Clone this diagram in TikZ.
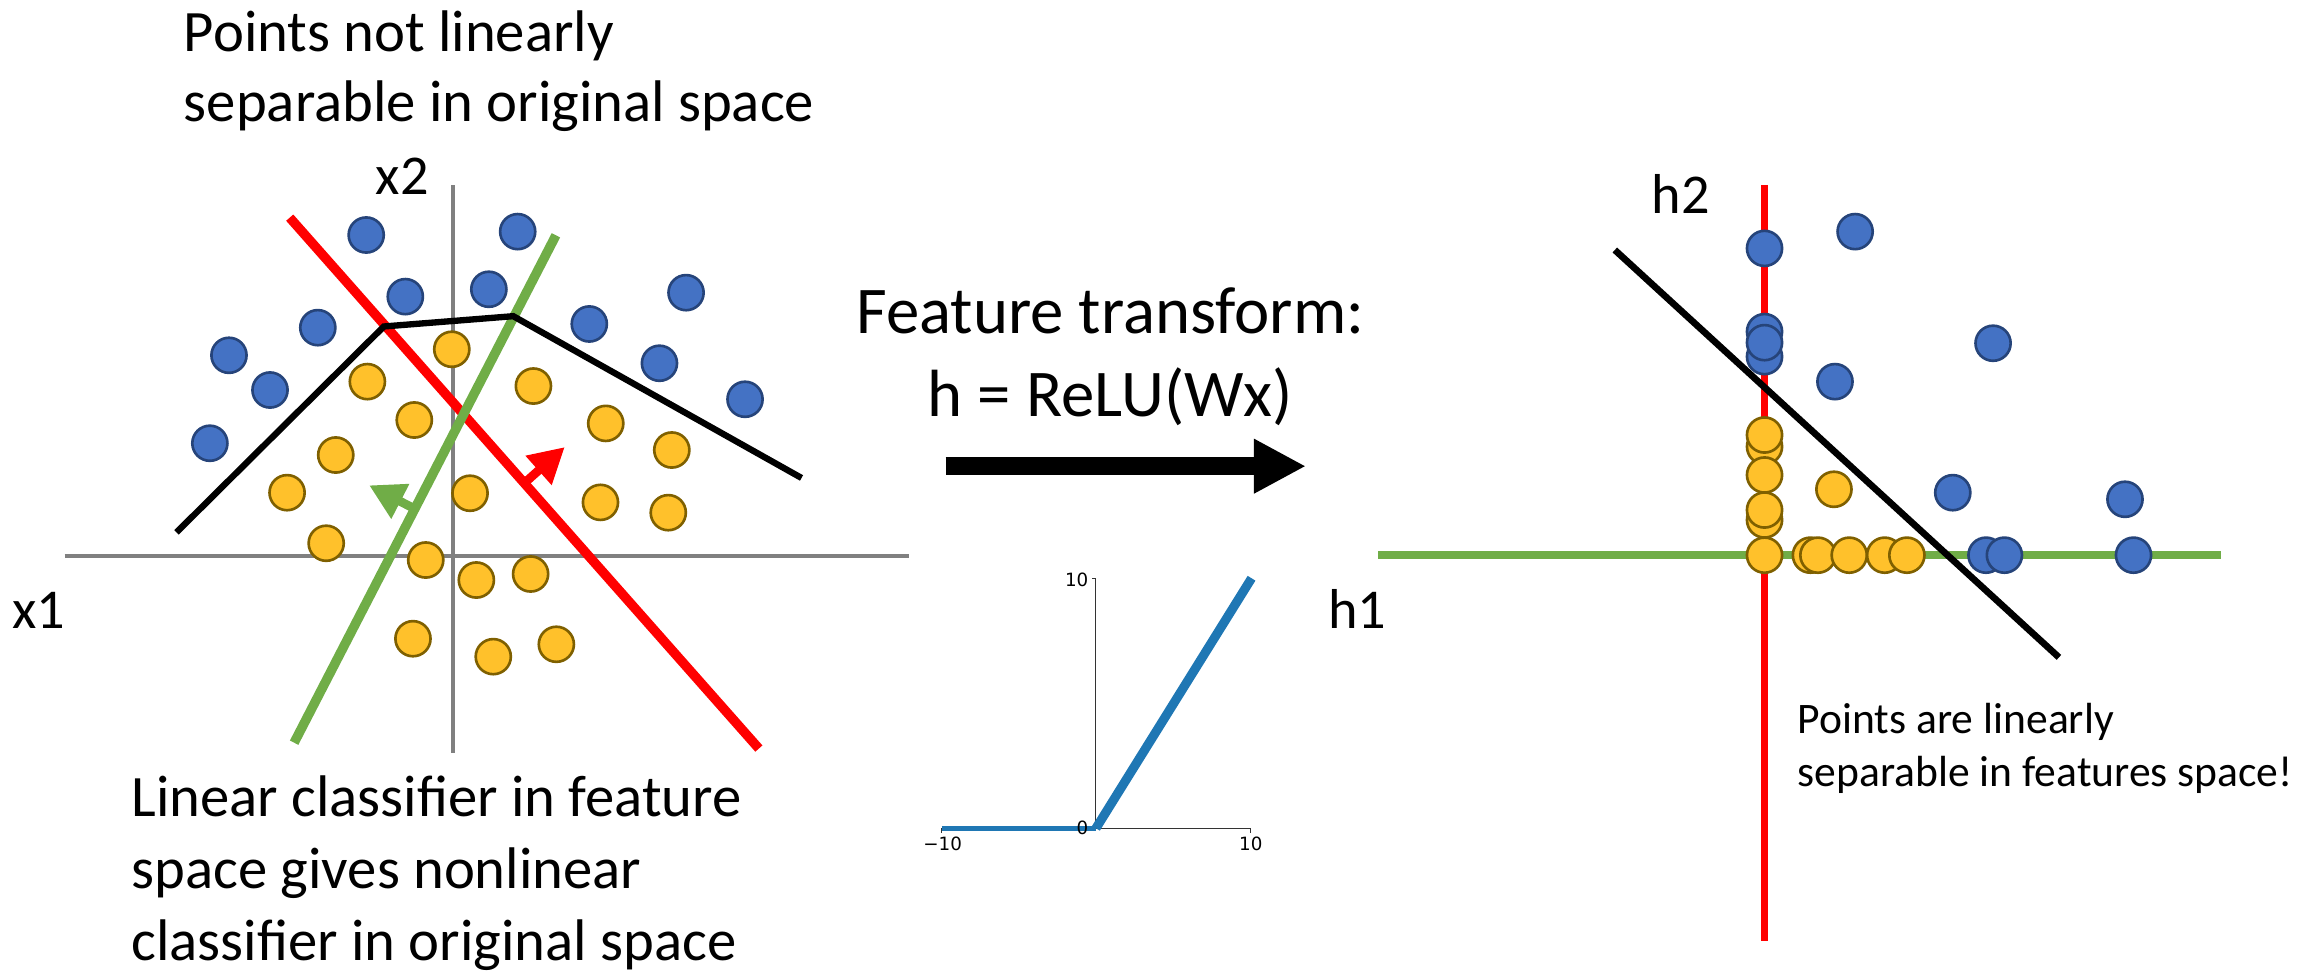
\documentclass[tikz,border=0pt]{standalone}
\usepackage{fontspec}
\setmainfont{Carlito}
\newfontfamily\plotfont{DejaVu Sans}
\usetikzlibrary{arrows.meta}

\definecolor{dotblue}{HTML}{4472C4}
\definecolor{dotblueline}{HTML}{26447A}
\definecolor{dotgold}{HTML}{FFC12B}
\definecolor{dotgoldline}{HTML}{7F6000}
\definecolor{clsgreen}{HTML}{70AD47}
\definecolor{axisgray}{HTML}{808080}
\definecolor{plotblue}{HTML}{1F77B4}

\begin{document}
\begin{tikzpicture}[
    x=0.1471mm, y=-0.1471mm,
    bdot/.style={circle, draw=dotblueline, fill=dotblue, line width=0.75pt, minimum size=10pt, inner sep=0pt},
    ydot/.style={circle, draw=dotgoldline, fill=dotgold, line width=0.75pt, minimum size=10pt, inner sep=0pt},
    bigtext/.style={font=\fontsize{16.7}{20}\selectfont, anchor=base west, inner sep=0pt},
    axislabel/.style={font=\fontsize{16}{19}\selectfont, anchor=base west, inner sep=0pt},
    feattext/.style={font=\fontsize{19}{23}\selectfont, anchor=base, inner sep=0pt},
    notetext/.style={font=\fontsize{12.4}{15}\selectfont, anchor=base west, inner sep=0pt},
    ticklabel/.style={font=\plotfont\fontsize{5.2}{6}\selectfont, inner sep=0pt},
    plotaxis/.style={draw=black!80, line width=0.3pt},
    clsarrow/.style={line width=2.5pt, -{Triangle[length=10pt, width=10.5pt]}}
]
    \useasboundingbox (0,0) rectangle (1568,665);

    % Original space: axes
    \coordinate (x1l) at (44,378);
    \coordinate (x1r) at (618,378);
    \coordinate (x2t) at (308,126);
    \coordinate (x2b) at (308,512);
    \draw[axisgray, line width=1.13pt] (x1l) -- (x1r);
    \draw[axisgray, line width=1.13pt] (x2t) -- (x2b);
    \node[axislabel] (x1lbl) at (8,427.2) {x1};
    \node[axislabel] (x2lbl) at (255,132.6) {x2};

    % Two linear classifiers (red, green) with normals
    \coordinate (redA) at (197,148);
    \coordinate (redB) at (516,509);
    \coordinate (grnA) at (378,160);
    \coordinate (grnB) at (200,505);
    \coordinate (redfoot) at (356,329);
    \coordinate (redtip) at (384,304);
    \coordinate (grnfoot) at (282,346);
    \coordinate (grntip) at (251,330);
    \draw[red, line width=2.7pt] (redA) -- (redB);
    \draw[clsgreen, line width=2.7pt] (grnA) -- (grnB);
    \draw[clsarrow, red] (redfoot) -- (redtip);
    \draw[clsarrow, clsgreen] (grnfoot) -- (grntip);

    % Nonlinear boundary in original space
    \coordinate (k1) at (120,362);
    \coordinate (k2) at (261,222);
    \coordinate (k3) at (349,215);
    \coordinate (k4) at (545,325);
    \draw[black, line width=1.8pt] (k1) -- (k2) -- (k3) -- (k4);

    % Points in original space
    \foreach \px/\py [count=\i] in {249/159.8, 352/157.5, 275.6/201.7, 332.4/196.7, 216.1/222.8, 155.7/241.6,
        183.6/265.2, 142.7/301.4, 400.7/220.3, 466.5/199, 448.4/247, 506.6/271.5}
        \node[bdot] (lb\i) at (\px,\py) {};
    \foreach \px/\py [count=\i] in {307.2/237.5, 249.8/259.5, 281.7/285.6, 228.3/309.4, 195.2/335, 362.7/262.5,
        411.9/287.9, 456.8/306, 319.6/335.4, 408.3/341.6, 454.4/348.6, 221.8/369.4,
        289.5/380.8, 323.9/394.4, 360.8/390.3, 280.8/434.3, 335.4/446.5, 378.3/438.1}
        \node[ydot] (ly\i) at (\px,\py) {};

    % Texts on the left
    \node[bigtext] (top1) at (124.6,35.1) {Points not linearly};
    \node[bigtext] (top2) at (124.6,82.7) {separable in original space};
    \node[bigtext] (bot1) at (89,555.3) {Linear classifier in feature};
    \node[bigtext] (bot2) at (89,604) {space gives nonlinear};
    \node[bigtext] (bot3) at (89,652.8) {classifier in original space};

    % Feature transform
    \node[feattext] (feat1) at (755,226.7) {Feature transform:};
    \node[feattext] (feat2) at (755,282.9) {h = ReLU(Wx)};
    \coordinate (bigtail) at (643,317);
    \coordinate (bighead) at (888,317);
    \draw[line width=5pt, -{Triangle[length=14.8pt, width=14.5pt]}] (bigtail) -- (bighead);

    % ReLU plot
    \coordinate (p00) at (745.2,563.2);
    \coordinate (pxl) at (640.3,563.2);
    \coordinate (pxr) at (850,563.2);
    \coordinate (pyt) at (745.2,393.2);
    \coordinate (pend) at (851,393.2);
    \draw[plotaxis] (pxl) -- (pxr);
    \draw[plotaxis] (p00) -- (pyt);
    \draw[plotaxis] (pxl) -- ++(0,3);
    \draw[plotaxis] (pxr) -- ++(0,3);
    \draw[plotaxis] (p00) -- ++(-3,0);
    \draw[plotaxis] (pyt) -- ++(-3,0);
    \draw[plotblue, line width=1.3pt] (pxl) -- (p00);
    \draw[plotblue, line width=2.6pt] (p00) -- (pend);
    \node[ticklabel, anchor=east] (ytop) at (740.5,394.3) {10};
    \node[ticklabel, anchor=east] (yzero) at (740.5,563) {0};
    \node[ticklabel] (xleft) at (641,573.5) {−10};
    \node[ticklabel] (xright) at (850.5,573.5) {10};

    % Feature space: axes
    \coordinate (h2t) at (1199.8,125.8);
    \coordinate (h2b) at (1199.8,640);
    \coordinate (h1l) at (937,377.5);
    \coordinate (h1r) at (1510.4,377.5);
    \draw[red, line width=1.9pt] (h2t) -- (h2b);
    \draw[clsgreen, line width=2.1pt] (h1l) -- (h1r);
    \node[axislabel] (h1lbl) at (902.8,427.2) {h1};
    \node[axislabel] (h2lbl) at (1122.6,145) {h2};

    % Linear boundary in feature space
    \coordinate (sepA) at (1098,170);
    \coordinate (sepB) at (1400,447);
    \draw[black, line width=1.9pt] (sepA) -- (sepB);

    % Points in feature space
    \foreach \px/\py [count=\i] in {1199.8/168.9, 1261.4/157.5, 1199.8/242.5, 1199.8/225.5, 1199.8/233,
        1355.2/233.4, 1247.7/259.5, 1327.8/335, 1444.9/339.5, 1350.4/377.5, 1362.9/377.5, 1450.7/377.5}
        \node[bdot] (rb\i) at (\px,\py) {};
    \foreach \px/\py [count=\i] in {1199.8/303.7, 1199.8/295.8, 1199.8/323, 1199.8/353.6, 1199.8/346.8,
        1199.8/377.5, 1247/332.7, 1231/377.5, 1236.1/377.5, 1257.4/377.5, 1281.5/377.5, 1296.6/377.5}
        \node[ydot] (ry\i) at (\px,\py) {};

    % Note on the right
    \node[notetext] (note1) at (1222,499) {Points are linearly};
    \node[notetext] (note2) at (1222,535) {separable in features space!};
\end{tikzpicture}
\end{document}
